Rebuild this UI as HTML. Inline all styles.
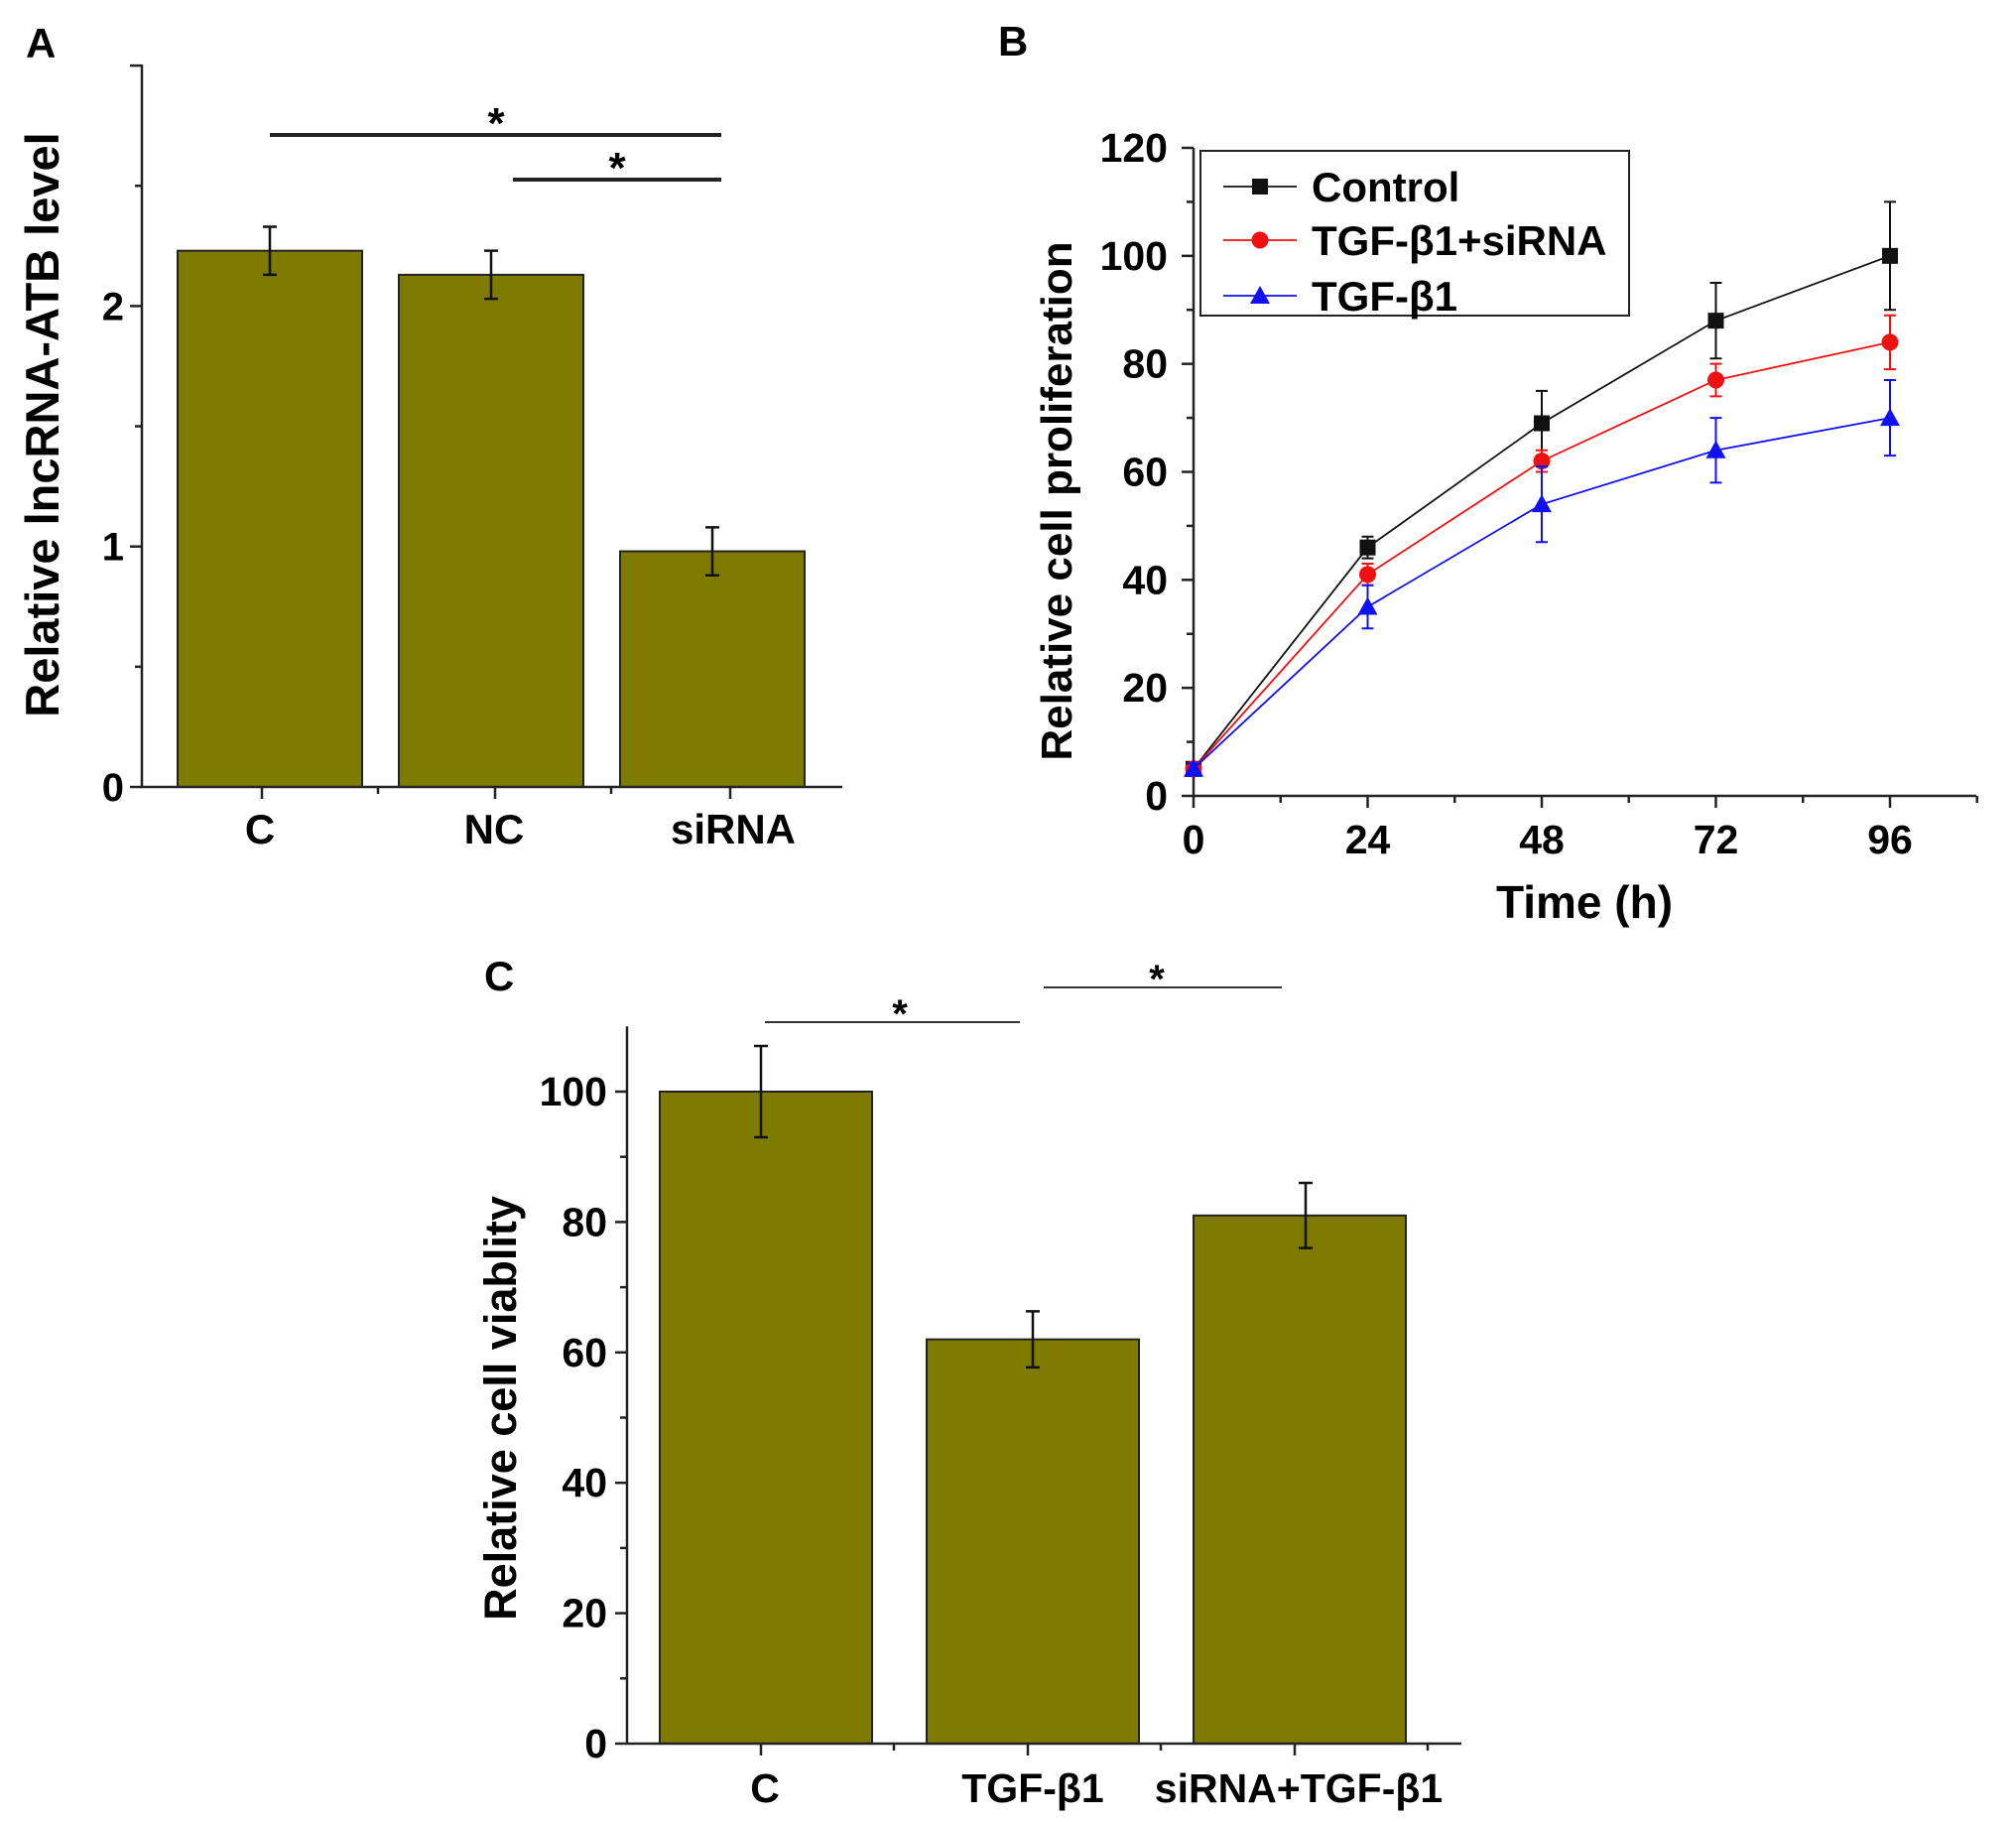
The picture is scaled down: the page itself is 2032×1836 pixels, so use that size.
<!DOCTYPE html>
<html><head><meta charset="utf-8"><style>
html,body{margin:0;padding:0;background:#fff;}
svg{display:block;font-family:"Liberation Sans",sans-serif;font-weight:bold;}
</style></head><body>
<svg id="fig" width="2032" height="1836" viewBox="0 0 2032 1836" xmlns="http://www.w3.org/2000/svg"></svg>
<script>
// Panel A data
const aCats = ["C","NC","siRNA"];
const aVals = [2.23,2.13,0.98];
const aErrs = [0.10,0.10,0.10];
const aTicks = [0,1,2];
// Panel B data
const bTimes = [0,24,48,72,96];
const bXTicks = [0,24,48,72,96];
const bYTicks = [0,20,40,60,80,100,120];
const bControl = [5,46,69,88,100];
const bControlErr = [1,2,6,7,10];
const bSiRNA = [5,41,62,77,84];
const bSiRNAErr = [1,2,2,3,5];
const bTGF = [5,35,54,64,70];
const bTGFErr = [1,4,7,6,7];
const bNames = ["Control","TGF-β1+siRNA","TGF-β1"];
// Panel C data
const cCats = ["C","TGF-β1","siRNA+TGF-β1"];
const cVals = [100,62,81];
const cErrs = [7,4.3,5];
const cTicks = [0,20,40,60,80,100];

const NS="http://www.w3.org/2000/svg";
const svg=document.getElementById('fig');
function el(tag,attrs,parent,text){const e=document.createElementNS(NS,tag);for(const k in attrs)e.setAttribute(k,attrs[k]);if(text!==undefined)e.textContent=text;(parent||svg).appendChild(e);return e;}
function grp(name){const g=el('g',{});return g;}
const OLIVE="#7f7a00";

// ---------- Panel A ----------
const gA=grp('panel-a');
const aX0=143,aY0=793,aUnit=242.3,aXend=849,aTop=65;
const ay=v=>aY0-v*aUnit;
const aBarC=i=>272+i*223, aBarW=186;
const aLabC=[262,498,739];
let t=el('text',{x:26,y:58,'font-size':42},gA,'A');
aVals.forEach((v,i)=>{
  let r=el('rect',{x:aBarC(i)-aBarW/2,y:ay(v),width:aBarW,height:aY0-ay(v),fill:OLIVE,stroke:'#222','stroke-width':2},gA);
  
  const cx=aBarC(i);
  let e=el('path',{d:`M${cx},${ay(v+aErrs[i])}V${ay(v-aErrs[i])}M${cx-7},${ay(v+aErrs[i])}h14M${cx-7},${ay(v-aErrs[i])}h14`,stroke:'#111','stroke-width':2.5,fill:'none'},gA);
  
  let l=el('text',{x:aLabC[i],y:850,'font-size':42,'text-anchor':'middle'},gA,aCats[i]);
  
});
let ax=el('path',{d:`M${aX0},${aTop}V${aY0}H${aXend}`,stroke:'#222','stroke-width':2.5,fill:'none'},gA);

for(let v=0;v<=3.001;v+=0.5){const major=Math.abs(v-Math.round(v))<0.01;el('line',{x1:aX0-(major?12:7),x2:aX0,y1:ay(v),y2:ay(v),stroke:'#222','stroke-width':2.5},gA);}
aTicks.forEach(v=>{let tl=el('text',{x:aX0-18,y:ay(v)+14,'font-size':40,'text-anchor':'end'},gA,String(v));});
[264,381,499,616,736].forEach((x,i)=>el('line',{x1:x,x2:x,y1:aY0,y2:aY0+(i%2==0?12:7),stroke:'#222','stroke-width':2.5},gA));
t=el('text',{transform:'translate(59,428) rotate(-90)','font-size':47,'text-anchor':'middle'},gA,'Relative lncRNA-ATB level');

let s=el('path',{d:'M272,136H727M517,181H727',stroke:'#222','stroke-width':4},gA);
el('text',{x:500,y:139,'font-size':44,'text-anchor':'middle'},gA,'*');
el('text',{x:622,y:184,'font-size':44,'text-anchor':'middle'},gA,'*');

// ---------- Panel B ----------
const gB=grp('panel-b');
const bX0=1203,bY0=802,bXend=1992;
const bx=v=>1203+v*(1905-1203)/96;
const by=v=>bY0-v*(802-149)/120;
t=el('text',{x:1006,y:56,'font-size':42},gB,'B');
ax=el('path',{d:`M${bX0},${by(120)}V${bY0}H${bXend}`,stroke:'#222','stroke-width':2.5,fill:'none'},gB);

for(let v=0;v<=120;v+=10){el('line',{x1:bX0-(v%20==0?12:7),x2:bX0,y1:by(v),y2:by(v),stroke:'#222','stroke-width':2.5},gB);}
for(let v=0;v<=108;v+=12){el('line',{x1:bx(v),x2:bx(v),y1:bY0,y2:bY0+(v%24==0?12:7),stroke:'#222','stroke-width':2.5},gB);}
bYTicks.forEach(v=>{let tl=el('text',{x:1177,y:by(v)+14,'font-size':41,'text-anchor':'end'},gB,String(v));});
bXTicks.forEach(v=>{let tl=el('text',{x:bx(v),y:860,'font-size':41,'text-anchor':'middle'},gB,String(v));});
t=el('text',{x:1597,y:925,'font-size':46,'text-anchor':'middle'},gB,'Time (h)');
t=el('text',{transform:'translate(1080,505) rotate(-90)','font-size':44,'text-anchor':'middle'},gB,'Relative cell proliferation');
const series=[[bControl,bControlErr,'#111','square'],[bSiRNA,bSiRNAErr,'#f01010','circle'],[bTGF,bTGFErr,'#1010f0','triangle']];
function marker(shape,x,y,c,g){
  if(shape=='square')return el('rect',{x:x-8,y:y-8,width:16,height:16,fill:c},g);
  if(shape=='circle')return el('circle',{cx:x,cy:y,r:8.5,fill:c},g);
  return el('path',{d:`M${x},${y-10}L${x+10},${y+8}L${x-10},${y+8}Z`,fill:c},g);
}
series.forEach((sr,si)=>{
  const [vals,errs,c,shape]=sr;
  const sg=el('g',{},gB);
  vals.forEach((v,i)=>{const x=bx(bTimes[i]);el('path',{d:`M${x},${by(v+errs[i])}V${by(v-errs[i])}M${x-6},${by(v+errs[i])}h12M${x-6},${by(v-errs[i])}h12`,stroke:c,'stroke-width':2,fill:'none'},sg);});
  el('polyline',{points:vals.map((v,i)=>bx(bTimes[i])+','+by(v)).join(' '),fill:'none',stroke:c,'stroke-width':1.8},sg);
  vals.forEach((v,i)=>{const m=marker(shape,bx(bTimes[i]),by(v),c,sg);});
});
const lg=el('g',{},gB);
el('rect',{x:1210,y:152,width:432,height:166,fill:'#fff',stroke:'#222','stroke-width':2},lg);
[188,242,298].forEach((yy,i)=>{
  const le=el('g',{},lg);
  el('line',{x1:1233,x2:1307,y1:yy,y2:yy,stroke:series[i][2],'stroke-width':1.8},le);
  marker(series[i][3],1270,yy,series[i][2],le);
  el('text',{x:1322,y:yy+15,'font-size':42},le,bNames[i]);
});

// ---------- Panel C ----------
const gC=grp('panel-c');
const cX0=632,cY0=1757,cXend=1473;
const cy=v=>cY0-v*(1757-1100)/100;
const cBarC=i=>772+i*269, cBarW=214;
const cLabC=[771,1041,1309];
t=el('text',{x:488,y:998,'font-size':42},gC,'C');
cVals.forEach((v,i)=>{
  let r=el('rect',{x:cBarC(i)-cBarW/2,y:cy(v),width:cBarW,height:cY0-cy(v),fill:OLIVE,stroke:'#222','stroke-width':2},gC);
  
  const cx=cBarC(i)+(i==0?-5:(i==1?0:6));
  let e=el('path',{d:`M${cx},${cy(v+cErrs[i])}V${cy(v-cErrs[i])}M${cx-7},${cy(v+cErrs[i])}h14M${cx-7},${cy(v-cErrs[i])}h14`,stroke:'#111','stroke-width':2.5,fill:'none'},gC);
  
  let l=el('text',{x:cLabC[i],y:1816,'font-size':41,'text-anchor':'middle'},gC,cCats[i]);
  
});
ax=el('path',{d:`M${cX0},${cy(110)}V${cY0}H${cXend}`,stroke:'#222','stroke-width':2.5,fill:'none'},gC);

for(let v=0;v<=100;v+=10){el('line',{x1:cX0-(v%20==0?12:7),x2:cX0,y1:cy(v),y2:cy(v),stroke:'#222','stroke-width':2.5},gC);}
[767,901,1036,1170,1305,1439].forEach((x,i)=>el('line',{x1:x,x2:x,y1:cY0,y2:cY0+(i%2==0?12:7),stroke:'#222','stroke-width':2.5},gC));
cTicks.forEach(v=>{let tl=el('text',{x:612,y:cy(v)+14,'font-size':41,'text-anchor':'end'},gC,String(v));});
t=el('text',{transform:'translate(520,1419) rotate(-90)','font-size':45,'text-anchor':'middle'},gC,'Relative cell viablity');
s=el('path',{d:'M771,1030H1028M1052,995H1292',stroke:'#333','stroke-width':2},gC);
el('text',{x:907,y:1035,'font-size':40,'text-anchor':'middle'},gC,'*');
el('text',{x:1166,y:1000,'font-size':40,'text-anchor':'middle'},gC,'*');
</script>
</body></html>
